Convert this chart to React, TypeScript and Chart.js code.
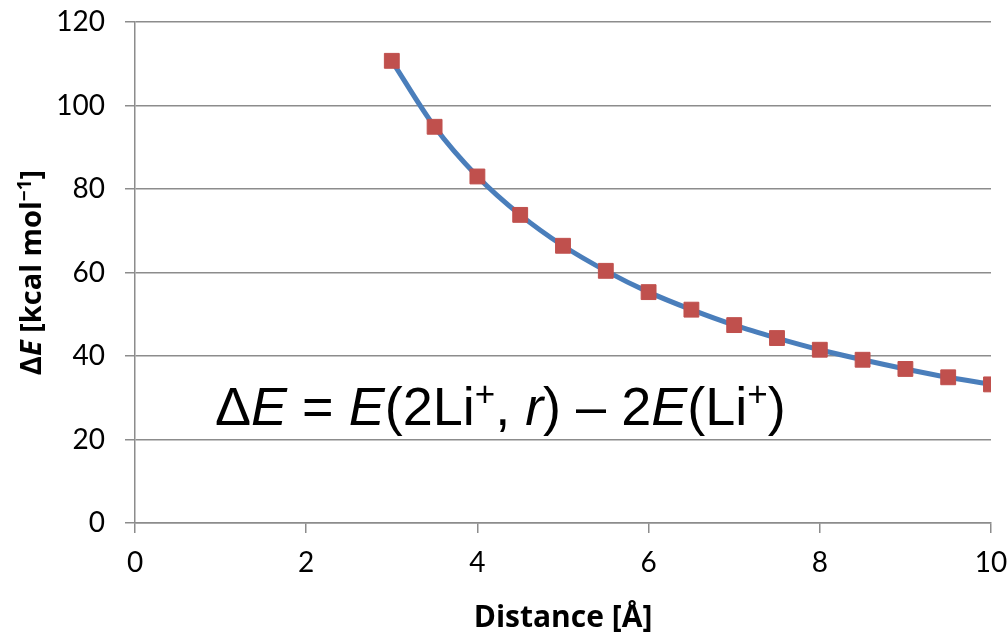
import React, { useEffect, useRef } from "react";
import { Chart, registerables } from "chart.js";

Chart.register(...registerables);

const distances = [3, 3.5, 4, 4.5, 5, 5.5, 6, 6.5, 7, 7.5, 8, 8.5, 9, 9.5, 10];
const deltaE = [110.7, 94.9, 83.0, 73.8, 66.4, 60.4, 55.3, 51.1, 47.4, 44.3, 41.5, 39.1, 36.9, 34.9, 33.2];
const xTicks = [0, 2, 4, 6, 8, 10];
const yTicks = [0, 20, 40, 60, 80, 100, 120];

const GRID = "#8c8c8c";
const TICK_FONT = "Lato";
const TITLE_FONT = "'Open Sans'";

type Piece = { t: string; italic?: boolean; sup?: boolean };

function drawPieces(ctx: CanvasRenderingContext2D, pieces: Piece[], size: number, family: string, bold: boolean, x: number, y: number, align: "left" | "center") {
  const fontFor = (p: Piece) =>
    `${p.italic ? "italic " : ""}${bold ? "bold " : ""}${p.sup ? Math.round(size * 0.65) : size}px ${family}`;
  let total = 0;
  for (const p of pieces) {
    ctx.font = fontFor(p);
    total += ctx.measureText(p.t).width;
  }
  let cx = align === "center" ? x - total / 2 : x;
  ctx.textBaseline = "alphabetic";
  ctx.textAlign = "left";
  for (const p of pieces) {
    ctx.font = fontFor(p);
    ctx.fillText(p.t, cx, p.sup ? y - size * 0.36 : y);
    cx += ctx.measureText(p.t).width;
  }
}

const textPlugin = {
  id: "customText",
  afterDraw(chart: any) {
    const ctx: CanvasRenderingContext2D = chart.ctx;
    const area = chart.chartArea;
    ctx.save();
    ctx.fillStyle = "#000";
    // x axis title
    drawPieces(ctx, [{ t: "Distance [Å]" }], 30, TITLE_FONT, true, (area.left + area.right) / 2, 627, "center");
    // y axis title
    ctx.save();
    ctx.translate(41, (area.top + area.bottom) / 2);
    ctx.rotate(-Math.PI / 2);
    drawPieces(
      ctx,
      [{ t: "Δ" }, { t: "E", italic: true }, { t: " [kcal mol" }, { t: "−1", sup: true }, { t: "]" }],
      29,
      TITLE_FONT,
      true,
      0,
      0,
      "center"
    );
    ctx.restore();
    // formula
    drawPieces(
      ctx,
      [
        { t: "Δ" },
        { t: "E", italic: true },
        { t: " = " },
        { t: "E", italic: true },
        { t: "(2Li" },
        { t: "+", sup: true },
        { t: ", " },
        { t: "r", italic: true },
        { t: ") – 2" },
        { t: "E", italic: true },
        { t: "(Li" },
        { t: "+", sup: true },
        { t: ")" },
      ],
      54,
      "'Liberation Sans', Arial",
      false,
      215,
      425,
      "left"
    );
    ctx.restore();
  },
};

export default function App() {
  const ref = useRef<HTMLCanvasElement>(null);
  useEffect(() => {
    if (!ref.current) return;
    const chart = new Chart(ref.current, {
      type: "line",
      data: {
        datasets: [
          {
            data: distances.map((d, i) => ({ x: d, y: deltaE[i] })),
            borderColor: "#4a7ebb",
            borderWidth: 5,
            backgroundColor: "#c0504d",
            pointBackgroundColor: "#c0504d",
            pointBorderColor: "#c0504d",
            pointBorderWidth: 1,
            pointStyle: "rect",
            pointRadius: 10.5,
            cubicInterpolationMode: "monotone",
            fill: false,
          },
        ],
      },
      options: {
        animation: false,
        responsive: false,
        maintainAspectRatio: false,
        layout: { padding: { top: 22, right: 16, left: 0, bottom: 0 } },
        plugins: { legend: { display: false }, tooltip: { enabled: false } },
        scales: {
          x: {
            type: "linear",
            min: 0,
            max: 10,
            afterBuildTicks: (s: any) => {
              s.ticks = xTicks.map((v) => ({ value: v }));
            },
            afterFit: (s: any) => {
              s.height = 111;
              s.paddingLeft = 0;
              s.paddingRight = 0;
              s.paddingTop = 0;
              s.paddingBottom = 0;
            },
            ticks: { font: { family: TICK_FONT, size: 28 }, color: "#000", padding: 13, maxRotation: 0 },
            grid: { drawOnChartArea: false, drawTicks: true, tickLength: 10, color: GRID, lineWidth: 1.5 },
            border: { display: true, color: GRID, width: 1.5 },
          },
          y: {
            type: "linear",
            min: 0,
            max: 120,
            afterBuildTicks: (s: any) => {
              s.ticks = yTicks.map((v) => ({ value: v }));
            },
            afterFit: (s: any) => {
              s.width = 135;
              s.paddingLeft = 0;
              s.paddingRight = 0;
              s.paddingTop = 0;
              s.paddingBottom = 0;
            },
            ticks: { font: { family: TICK_FONT, size: 28 }, color: "#000", padding: 20 },
            grid: { drawOnChartArea: true, drawTicks: true, tickLength: 10, color: GRID, lineWidth: 1.5 },
            border: { display: true, color: GRID, width: 1.5 },
          },
        },
      },
      plugins: [textPlugin],
    });
    return () => chart.destroy();
  }, []);
  return (
    <div style={{ position: "absolute", left: 0, top: 0, width: 1007, height: 634, background: "#fff" }}>
      <canvas ref={ref} width={1007} height={634} style={{ width: 1007, height: 634 }} />
    </div>
  );
}
